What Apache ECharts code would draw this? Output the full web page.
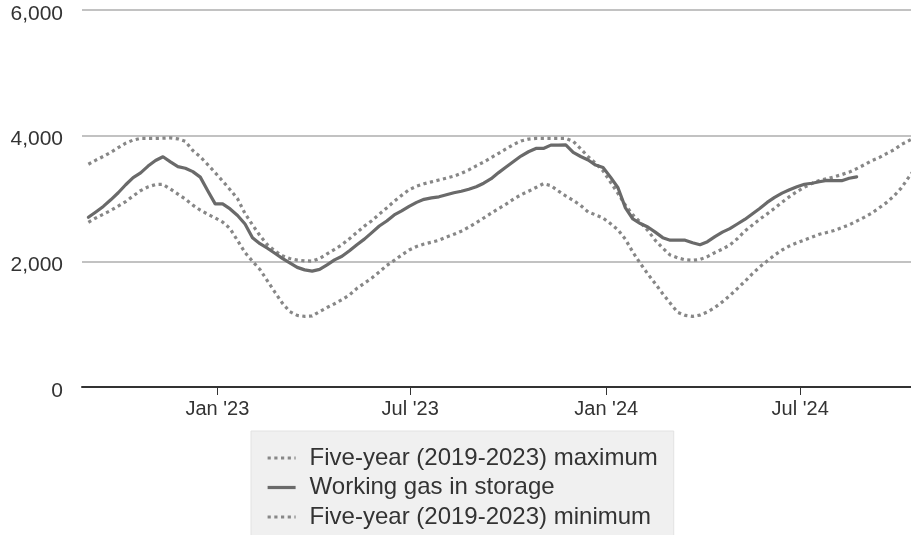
<!DOCTYPE html>
<html>
<head>
<meta charset="utf-8">
<script src="https://cdn.jsdelivr.net/npm/echarts@6/dist/echarts.min.js"></script>
<style>
html,body{margin:0;padding:0;background:#fff;}
#chart{width:911px;height:535px;}
</style>
</head>
<body>
<div id="chart"></div>
<script>
// Weekly series, first week ending 2022-09-02
const weekStart = '2022-09-02';

const seriesNames = [
  'Five-year (2019-2023) maximum',
  'Working gas in storage',
  'Five-year (2019-2023) minimum'
];

const maxValues = [
  3545, 3610, 3670, 3735, 3810, 3880, 3930, 3957, 3957, 3957,
  3960, 3965, 3950, 3909, 3764, 3664, 3540, 3410, 3277, 3140,
  2995, 2760, 2580, 2410, 2265, 2165, 2090, 2045, 2020, 2008,
  2003, 2045, 2120, 2190, 2265, 2360, 2460, 2560, 2647, 2750,
  2850, 2955, 3050, 3140, 3195, 3235, 3265, 3295, 3325, 3355,
  3400, 3455, 3520, 3580, 3650, 3720, 3790, 3860, 3915, 3945,
  3957, 3957, 3957, 3957, 3957, 3910, 3790, 3666, 3560, 3440,
  3260, 3080, 2892, 2738, 2620, 2490, 2335, 2210, 2100, 2055,
  2025, 2016, 2030, 2075, 2140, 2195, 2260, 2360, 2480, 2575,
  2670, 2755, 2845, 2940, 3030, 3110, 3180, 3240, 3285, 3315,
  3345, 3380, 3420, 3475, 3535, 3600, 3650, 3715, 3775, 3860,
  3920, 3990
];

const workingGas = [
  2701, 2786, 2874, 2979, 3091, 3219, 3331, 3407, 3516, 3604,
  3664, 3583, 3508, 3481, 3428, 3340, 3123, 2914, 2914, 2834,
  2730, 2594, 2377, 2281, 2209, 2128, 2048, 1976, 1904, 1864,
  1845, 1872, 1944, 2024, 2080, 2169, 2265, 2353, 2457, 2562,
  2642, 2738, 2802, 2874, 2938, 2987, 3011, 3027, 3059, 3091,
  3115, 3147, 3187, 3243, 3315, 3412, 3500, 3588, 3676, 3744,
  3797, 3797, 3850, 3850, 3853, 3733, 3668, 3612, 3532, 3492,
  3340, 3171, 2850, 2674, 2602, 2546, 2465, 2377, 2337, 2337,
  2337, 2297, 2265, 2313, 2393, 2465, 2521, 2594, 2666, 2754,
  2842, 2938, 3019, 3086, 3139, 3187, 3227, 3243, 3267, 3288,
  3283, 3283, 3323, 3345
];

const minValues = [
  2621, 2690, 2750, 2810, 2880, 2950, 3040, 3125, 3185, 3222,
  3225, 3150, 3070, 2990, 2895, 2815, 2750, 2690, 2625, 2520,
  2330, 2140, 2000, 1870, 1690, 1510, 1335, 1200, 1140, 1125,
  1130, 1200, 1265, 1325, 1390, 1465, 1570, 1650, 1735, 1830,
  1935, 2015, 2100, 2180, 2235, 2275, 2305, 2335, 2385, 2430,
  2480, 2545, 2615, 2690, 2765, 2840, 2910, 2990, 3060, 3115,
  3175, 3235, 3205, 3120, 3040, 2970, 2890, 2785, 2740, 2690,
  2600, 2500, 2350, 2145, 1965, 1800, 1645, 1485, 1335, 1190,
  1140, 1123, 1145, 1195, 1265, 1355, 1455, 1565, 1680, 1800,
  1910, 2005, 2100, 2180, 2245, 2295, 2340, 2385, 2430, 2460,
  2490, 2535, 2580, 2640, 2700, 2765, 2850, 2935, 3040, 3170,
  3340, 3500
];

const tickDates = ['2023-01-01', '2023-07-01', '2024-01-01', '2024-07-01'];
const tickLabels = ["Jan '23", "Jul '23", "Jan '24", "Jul '24"];
const yTicks = [0, 2000, 4000, 6000];
const xRange = ['2022-08-27', '2024-10-13'];

function ts(s) { const p = s.split('-').map(Number); return Date.UTC(p[0], p[1] - 1, p[2]); }
const t0 = ts(weekStart);
const DAY = 86400000;
function pairs(vals) { return vals.map((v, i) => [t0 + i * 7 * DAY, v]); }
const tickTs = tickDates.map(ts);

const dotted = { color: '#878787', width: 3.2, type: [3.2, 3.5], cap: 'butt' };
const solid = { color: '#6a6a6a', width: 3.2, type: 'solid', cap: 'round', join: 'round' };

const chart = echarts.init(document.getElementById('chart'), null, { renderer: 'canvas' });
chart.setOption({
  animation: false,
  textStyle: { fontFamily: 'Liberation Sans, Arial, sans-serif' },
  grid: { left: 82, right: 0, top: 10, bottom: 148, containLabel: false },
  xAxis: {
    type: 'value',
    min: ts(xRange[0]),
    max: ts(xRange[1]),
    axisLine: { show: true, onZero: false, lineStyle: { color: '#333', width: 2 } },
    axisTick: { show: true, customValues: tickTs, length: 8, lineStyle: { color: '#333', width: 1 } },
    axisLabel: {
      customValues: tickTs,
      showMinLabel: true, showMaxLabel: true,
      fontSize: 20, color: '#333', margin: 12,
      fontFamily: 'Liberation Sans, Arial, sans-serif',
      formatter: function (v) { const i = tickTs.indexOf(v); return i >= 0 ? tickLabels[i] : ''; }
    },
    splitLine: { show: false }
  },
  yAxis: {
    type: 'value',
    min: yTicks[0], max: yTicks[yTicks.length - 1], interval: 2000,
    axisLine: { show: false },
    axisTick: { show: false },
    axisLabel: {
      fontSize: 21, color: '#333', margin: 19,
      fontFamily: 'Liberation Sans, Arial, sans-serif',
      verticalAlign: 'top', lineHeight: 8,
      formatter: function (v) { return v.toLocaleString('en-US'); }
    },
    splitLine: { show: true, lineStyle: { color: '#c2c2c2', width: 2 } }
  },
  legend: {
    orient: 'vertical',
    left: 251, top: 431, height: 300,
    data: seriesNames,
    backgroundColor: '#f0f0f0',
    borderColor: '#e2e2e2', borderWidth: 1, borderRadius: 0,
    padding: [15, 16, 14, 15],
    itemWidth: 28, itemHeight: 14, itemGap: 5.5,
    itemStyle: { opacity: 0 },
    lineStyle: { width: 3.2, type: 'inherit', cap: 'butt' },
    selectedMode: false,
    textStyle: { fontSize: 24, color: '#333', fontFamily: 'Liberation Sans, Arial, sans-serif', padding: [0, 0, 0, 9] }
  },
  series: [
    { name: seriesNames[0], type: 'line', symbol: 'none', data: pairs(maxValues), lineStyle: dotted, itemStyle: { color: dotted.color }, z: 2 },
    { name: seriesNames[1], type: 'line', symbol: 'none', data: pairs(workingGas), lineStyle: solid, itemStyle: { color: solid.color }, z: 3 },
    { name: seriesNames[2], type: 'line', symbol: 'none', data: pairs(minValues), lineStyle: dotted, itemStyle: { color: dotted.color }, z: 2 }
  ]
});
</script>
</body>
</html>
